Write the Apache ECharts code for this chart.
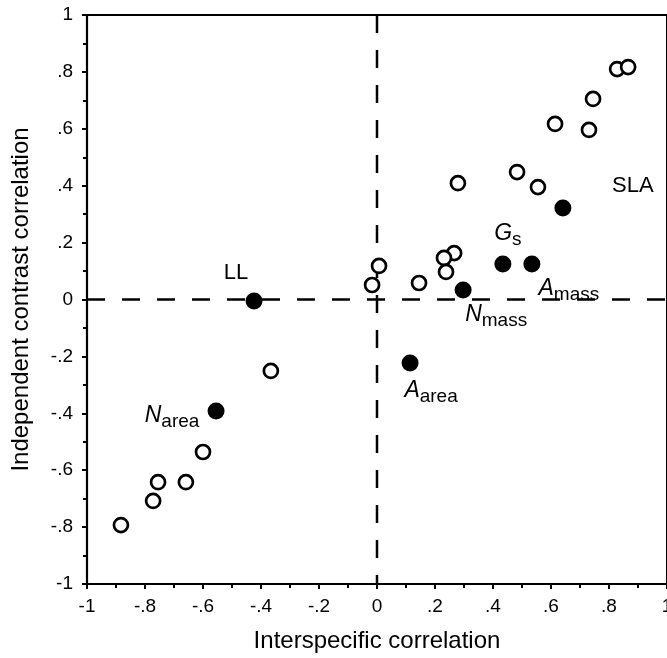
<!DOCTYPE html>
<html><head><meta charset="utf-8">
<script src="https://cdn.jsdelivr.net/npm/echarts@6/dist/echarts.min.js"></script>
<style>html,body{margin:0;padding:0;background:#fff}#c{width:667px;height:658px}</style>
</head><body><div id="c"></div>
<script>
// Open circles (other traits): [interspecific, independent contrast]
const openX = [0.828, 0.866, 0.745, 0.614, 0.731, 0.279, 0.483, 0.555, 0.266, 0.231, 0.238, 0.145, 0.007, -0.017, -0.366, -0.600, -0.755, -0.659, -0.772, -0.883];
const openY = [0.810, 0.817, 0.705, 0.617, 0.596, 0.409, 0.448, 0.395, 0.163, 0.146, 0.097, 0.058, 0.118, 0.051, -0.251, -0.536, -0.642, -0.642, -0.708, -0.793];
// Filled circles (named traits)
const filledNames = ['SLA', 'Gs', 'Amass', 'Nmass', 'LL', 'Narea', 'Aarea'];
const filledX = [0.641, 0.434, 0.534, 0.297, -0.424, -0.555, 0.114];
const filledY = [0.322, 0.125, 0.125, 0.033, -0.005, -0.392, -0.223];
const tickLabels = {'-1':'-1','-0.8':'-.8','-0.6':'-.6','-0.4':'-.4','-0.2':'-.2','0':'0','0.2':'.2','0.4':'.4','0.6':'.6','0.8':'.8','1':'1'};

const labelText = {
  'SLA': 'SLA', 'LL': 'LL',
  'Gs': '{i|G}{s|s}', 'Amass': '{i|A}{s|mass}', 'Nmass': '{i|N}{s|mass}',
  'Narea': '{i|N}{s|area}', 'Aarea': '{i|A}{s|area}'
};
const labelOffset = {
  'SLA': [70, -22], 'LL': [-18, -28], 'Gs': [5, -31], 'Amass': [37, 24],
  'Nmass': [33, 24], 'Narea': [-44, 4], 'Aarea': [21, 27]
};

const FONT = 'Liberation Sans, Arial, Helvetica, sans-serif';
function fmt(v){ const k = String(Math.round(v*10)/10); return tickLabels[k] !== undefined ? tickLabels[k] : ''; }

const openData = openX.map((x,i)=>[x, openY[i]]);
const filledData = filledX.map((x,i)=>({
  value: [x, filledY[i]],
  name: filledNames[i],
  label: { offset: labelOffset[filledNames[i]] }
}));

const axisCommon = {
  type: 'value', min: -1, max: 1, interval: 0.2,
  axisLine: { show: true, onZero: false, lineStyle: { color: '#000', width: 2.2 } },
  axisTick: { show: true, length: 5, lineStyle: { color: '#000', width: 2 } },
  minorTick: { show: true, splitNumber: 2, length: 4, lineStyle: { color: '#000', width: 2 } },
  splitLine: { show: false },
  axisLabel: { color: '#000', fontSize: 19, fontFamily: FONT, formatter: fmt, showMaxLabel: true, showMinLabel: true },
  nameLocation: 'middle',
  nameTextStyle: { color: '#000', fontSize: 24, fontFamily: FONT }
};

const chart = echarts.init(document.getElementById('c'), null, {renderer: 'canvas'});
chart.setOption({
  animation: false,
  backgroundColor: '#fff',
  grid: { left: 87, right: 0, top: 15, bottom: 74, outerBoundsMode: 'none', containLabel: false, show: true, borderColor: '#000', borderWidth: 2, backgroundColor: 'transparent' },
  xAxis: Object.assign({}, axisCommon, {
    name: 'Interspecific correlation', nameGap: 45,
    axisLabel: Object.assign({}, axisCommon.axisLabel, { margin: 13 })
  }),
  yAxis: Object.assign({}, axisCommon, {
    name: 'Independent contrast correlation', nameGap: 54,
    axisLabel: Object.assign({}, axisCommon.axisLabel, { margin: 14 })
  }),
  series: [
    {
      type: 'line', data: [[-1, 0], [1, 0]], symbol: 'none', silent: true,
      lineStyle: { color: '#000', width: 2.5, type: [18, 17] }, z: 1
    },
    {
      type: 'line', data: [[0, 1], [0, -1]], symbol: 'none', silent: true,
      lineStyle: { color: '#000', width: 2.5, type: [18, 17] }, z: 1
    },
    {
      type: 'scatter', data: openData, symbol: 'circle', symbolSize: 14,
      itemStyle: { color: '#fff', borderColor: '#000', borderWidth: 2.7, opacity: 1 }, z: 3
    },
    {
      type: 'scatter', data: filledData, symbol: 'circle', symbolSize: 17,
      itemStyle: { color: '#000', borderColor: '#000', borderWidth: 0, opacity: 1 }, z: 4,
      label: {
        show: true, position: 'inside', color: '#000', fontSize: 22, fontFamily: FONT,
        formatter: p => labelText[p.name],
        rich: {
          i: { fontSize: 23, fontStyle: 'italic', fontFamily: FONT, color: '#000', verticalAlign: 'bottom', lineHeight: 24 },
          s: { fontSize: 19, fontFamily: FONT, color: '#000', verticalAlign: 'bottom', lineHeight: 24, padding: [0,0,-4,0] }
        }
      }
    }
  ]
});
</script></body></html>
